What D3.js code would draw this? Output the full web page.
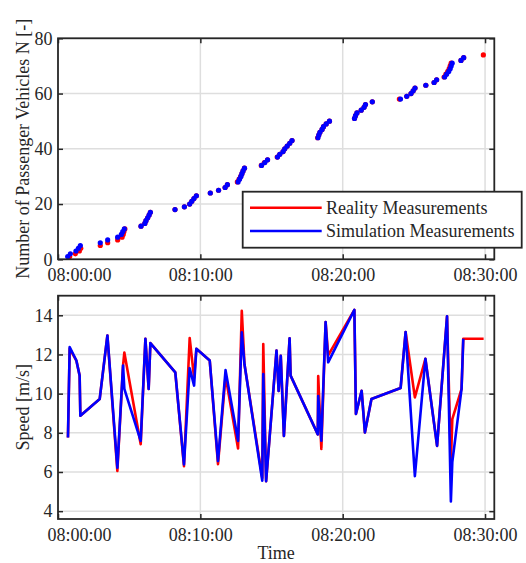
<!DOCTYPE html>
<html>
<head>
<meta charset="utf-8">
<script src="https://cdn.jsdelivr.net/npm/d3@7"></script>
<style>
  html, body { margin: 0; padding: 0; background: #ffffff; }
  svg { display: block; font-family: "Liberation Serif", "Times New Roman", serif; }
</style>
</head>
<body>
<svg id="chart" width="526" height="563"></svg>
<script>
// ---------- DATA (time in minutes after 08:00:00) ----------
// Top panel: cumulative number of passenger vehicles
const simTimes = [0.68,0.87,1.26,1.43,1.57,2.97,3.49,4.19,4.45,4.55,4.66,5.83,6.10,6.18,6.30,6.40,6.49,8.22,8.88,9.25,9.40,9.55,9.72,10.70,11.28,11.74,11.90,12.65,12.75,12.85,12.92,13.00,13.10,14.30,14.53,14.72,15.42,15.58,15.81,15.93,16.10,16.28,16.44,18.26,18.32,18.40,18.55,18.65,18.84,19.07,20.83,20.90,21.00,21.30,21.50,21.60,22.08,24.06,24.50,24.80,24.95,25.08,25.84,26.42,26.60,27.16,27.30,27.45,27.55,27.62,27.69,28.31,28.50];
const simCounts = [1,2,3,4,5,6,7,8,9,10,11,12,13,14,15,16,17,18,19,20,21,22,23,24,25,26,27,28,29,30,31,32,33,34,35,36,37,38,39,40,41,42,43,44,45,46,47,48,49,50,51,52,53,54,55,56,57,58,59,60,61,62,63,64,65,66,67,68,69,70,71,72,73];
const realTimes = [0.82,1.22,1.50,1.60,2.97,3.49,4.19,4.50,4.58,4.63,4.70,5.83,6.10,6.18,6.30,6.40,6.49,8.22,8.88,9.25,9.40,9.55,9.72,10.70,11.28,11.74,11.90,12.60,12.72,12.83,12.92,13.00,13.10,14.28,14.50,14.72,15.40,15.58,15.81,15.93,16.10,16.28,16.44,18.24,18.32,18.40,18.55,18.65,18.84,19.07,20.83,20.90,21.00,21.30,21.50,21.60,22.08,23.98,24.50,24.80,24.95,25.08,25.84,26.42,26.60,27.12,27.25,27.38,27.48,27.55,27.62,28.31,28.50,29.88];
const realCounts = [1,2,3,4,5,6,7,8,9,10,11,12,13,14,15,16,17,18,19,20,21,22,23,24,25,26,27,28,29,30,31,32,33,34,35,36,37,38,39,40,41,42,43,44,45,46,47,48,49,50,51,52,53,54,55,56,57,58,59,60,61,62,63,64,65,66,67,68,69,70,71,72,73,74];

// Bottom panel: speed of each vehicle [m/s]
const speedTimes = [0.70,0.82,1.29,1.52,1.57,2.93,3.47,4.17,4.57,4.66,5.81,6.14,6.37,6.49,8.24,8.85,9.25,9.56,9.72,10.66,11.24,11.77,12.65,12.91,13.10,14.35,14.42,14.62,15.35,15.50,15.65,15.87,16.27,16.34,18.25,18.28,18.50,18.80,18.98,20.82,20.93,21.33,21.56,22.02,24.07,24.42,25.07,25.81,26.63,27.33,27.60,27.70,28.35,28.47,29.90];
const speedReal = [7.76,12.30,11.69,10.92,8.87,9.73,12.97,6.05,11.44,12.10,7.42,12.80,10.24,12.58,11.09,6.30,12.84,10.80,12.29,11.69,6.40,10.90,7.20,14.23,11.50,5.70,12.53,5.53,12.20,10.14,11.93,7.84,12.82,10.92,7.92,10.90,7.18,13.65,11.95,14.28,8.96,10.15,8.02,9.73,10.29,13.15,9.81,11.78,7.33,13.95,6.50,8.70,10.24,12.80,12.80];
const speedSim = [7.76,12.38,11.69,10.92,8.87,9.73,12.97,6.22,11.44,10.24,7.59,12.80,10.24,12.58,11.09,6.39,11.30,10.41,12.29,11.69,6.56,11.20,7.59,13.13,11.50,5.55,11.00,5.53,12.20,10.14,11.93,7.84,12.82,10.92,7.92,9.88,7.60,13.65,11.60,14.28,8.96,10.15,8.02,9.73,10.29,13.15,5.79,11.78,7.33,13.95,4.50,6.50,10.24,12.80,null];

// Axis ticks / labels
const topYTicks = [0,20,40,60,80];
const botYTicks = [4,6,8,10,12,14];
const xTickMinutes = [0,10,20,30];
const legendLabels = ["Reality Measurements","Simulation Measurements"];
const seriesColors = ["#ff0000","#0000ff"];

// ---------- DRAWING ----------
const svg = d3.select("#chart");
const base = new Date(2020,0,1,8,0,0);
const toDate = m => new Date(base.getTime() + m*60000);
const fmt = d3.timeFormat("%H:%M:%S");

const L = 58, R = 494.3;
const x = d3.scaleTime().domain([toDate(0), toDate(30.65)]).range([L, R]);

const panels = [
  { top: 38.3, bottom: 259.3, ydom: [0,80], yticks: topYTicks, title: "Number of Passenger Vehicles N [-]" },
  { top: 295.7, bottom: 519, ydom: [3.6,15], yticks: botYTicks, title: "Speed [m/s]" }
];
const axisColor = "#262626";
const gridColor = "#dedede";

panels.forEach(p => {
  p.y = d3.scaleLinear().domain(p.ydom).range([p.bottom, p.top]);
  const g = svg.append("g");
  g.append("rect").attr("x", L).attr("y", p.top).attr("width", R-L).attr("height", p.bottom-p.top).attr("fill", "#fff");
  g.append("g").selectAll("line").data(xTickMinutes.slice(1)).join("line")
    .attr("x1", d => x(toDate(d))).attr("x2", d => x(toDate(d)))
    .attr("y1", p.top).attr("y2", p.bottom)
    .attr("stroke", gridColor).attr("stroke-width", 1.5);
  g.append("g").selectAll("line").data(p.yticks).join("line")
    .attr("x1", L).attr("x2", R)
    .attr("y1", d => p.y(d)).attr("y2", d => p.y(d))
    .attr("stroke", gridColor).attr("stroke-width", 1.5);
  p.g = g;
});

function drawAxes(p) {
  const g = svg.append("g");
  const xb = d3.axisBottom(x).tickValues(xTickMinutes.map(toDate)).tickFormat(fmt).tickSizeInner(-5).tickSizeOuter(0).tickPadding(9);
  const xt = d3.axisTop(x).tickValues(xTickMinutes.map(toDate)).tickFormat("").tickSizeInner(-5).tickSizeOuter(0);
  const yl = d3.axisLeft(p.y).tickValues(p.yticks).tickSizeInner(-5).tickSizeOuter(0).tickPadding(5.5);
  const yr = d3.axisRight(p.y).tickValues(p.yticks).tickFormat("").tickSizeInner(-5).tickSizeOuter(0);
  const axB = g.append("g").attr("transform", `translate(0,${p.bottom})`).call(xb);
  const ax = [
    axB,
    g.append("g").attr("transform", `translate(0,${p.top})`).call(xt),
    g.append("g").attr("transform", `translate(${L},0)`).call(yl),
    g.append("g").attr("transform", `translate(${R},0)`).call(yr)
  ];
  ax.forEach(a => {
    a.select(".domain").remove();
    a.selectAll(".tick line").attr("stroke", axisColor).attr("stroke-width", 1.5);
    a.selectAll("text").attr("fill", axisColor).attr("font-size", 18).attr("font-family", "Liberation Serif, serif");
  });
  // first time label sits to the right of the axis corner, as in the reference
  axB.selectAll(".tick text").filter((d, i) => i === 0).attr("dx", 21);
  g.append("rect").attr("x", L).attr("y", p.top).attr("width", R-L).attr("height", p.bottom-p.top)
    .attr("fill", "none").attr("stroke", axisColor).attr("stroke-width", 1.8);
  svg.append("text")
    .attr("transform", `translate(29,${(p.top+p.bottom)/2}) rotate(-90)`)
    .attr("text-anchor", "middle").attr("font-size", 18).attr("fill", axisColor)
    .text(p.title);
}

// Top panel points
const P0 = panels[0];
const realPts = realTimes.map((t,i) => ({t, n: realCounts[i]}));
const simPts = simTimes.map((t,i) => ({t, n: simCounts[i]}));
P0.g.append("g").selectAll("circle").data(realPts).join("circle")
  .attr("cx", d => x(toDate(d.t))).attr("cy", d => P0.y(d.n)).attr("r", 2.6).attr("fill", seriesColors[0]);
P0.g.append("g").selectAll("circle").data(simPts).join("circle")
  .attr("cx", d => x(toDate(d.t))).attr("cy", d => P0.y(d.n)).attr("r", 2.6).attr("fill", seriesColors[1]);
drawAxes(P0);

// Bottom panel lines
const P1 = panels[1];
const line = d3.line().defined(d => d.v != null).x(d => x(toDate(d.t))).y(d => P1.y(d.v));
P1.g.append("path").datum(speedTimes.map((t,i) => ({t, v: speedReal[i]})))
  .attr("d", line).attr("fill", "none").attr("stroke", seriesColors[0]).attr("stroke-width", 2.6).attr("stroke-linejoin", "round");
P1.g.append("path").datum(speedTimes.map((t,i) => ({t, v: speedSim[i]})))
  .attr("d", line).attr("fill", "none").attr("stroke", seriesColors[1]).attr("stroke-width", 2.6).attr("stroke-linejoin", "round");
drawAxes(P1);

svg.append("text").attr("x", (L+R)/2).attr("y", 559).attr("text-anchor", "middle")
  .attr("font-size", 18).attr("fill", axisColor).text("Time");

// Legend
const lg = svg.append("g");
lg.append("rect").attr("x", 242.7).attr("y", 191.7).attr("width", 279).attr("height", 56)
  .attr("fill", "#fff").attr("stroke", axisColor).attr("stroke-width", 1.8);
legendLabels.forEach((lab, i) => {
  const yy = 207.7 + i*23.3;
  lg.append("line").attr("x1", 250).attr("x2", 321.7).attr("y1", yy).attr("y2", yy)
    .attr("stroke", seriesColors[i]).attr("stroke-width", 2.6);
  lg.append("text").attr("x", 326).attr("y", yy + 6.3).attr("font-size", 18).attr("fill", axisColor).text(lab);
});
</script>
</body>
</html>
